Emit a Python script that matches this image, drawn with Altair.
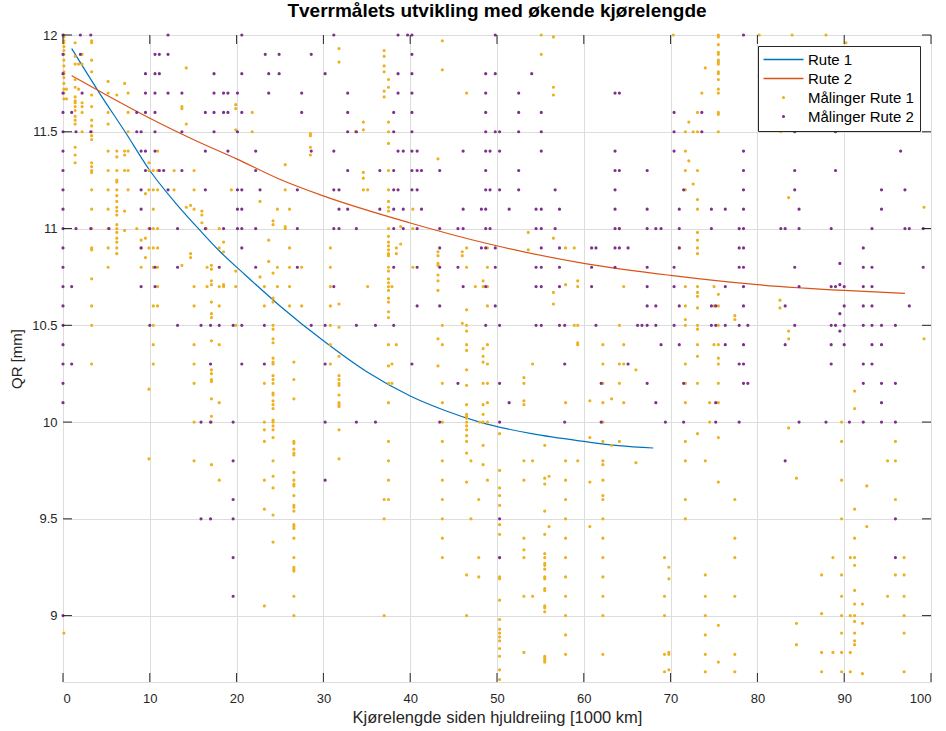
import altair as alt
import pandas as pd

# ---------------- data ----------------
x_ticks = [0, 10, 20, 30, 40, 50, 60, 70, 80, 90, 100]
y_ticks = [9, 9.5, 10, 10.5, 11, 11.5, 12]

# fitted curves
rute1_x = [1, 4.2, 7.15, 10, 13, 16, 18, 21, 25, 30, 35, 40, 44, 48, 54, 60, 64, 68]
rute1_y = [11.93, 11.70, 11.50, 11.30, 11.13, 10.98, 10.885, 10.76, 10.60, 10.42, 10.26,
           10.135, 10.06, 10.00, 9.94, 9.90, 9.878, 9.866]
rute2_x = [1, 5, 10, 15, 20, 24.9, 29.9, 39.9, 49.1, 60, 70, 80, 90, 97]
rute2_y = [11.79, 11.69, 11.57, 11.46, 11.36, 11.256, 11.17, 11.03, 10.92, 10.82,
           10.758, 10.71, 10.68, 10.665]

# measurements route 1: (mileage, [QR values])
maal1 = [
    (0.1, [12.00, 11.99, 11.97, 11.96, 11.94, 11.92, 11.90, 11.87, 11.84, 11.81, 11.80, 11.78, 11.75, 11.72, 11.70, 11.67, 8.91]),
    (0.4, [11.72, 11.67]),
    (1.4, [11.96, 11.89, 11.85, 11.77, 11.73, 11.68, 11.66, 11.65, 11.63, 11.61, 11.58, 11.56, 11.54, 11.42, 11.38, 11.34]),
    (1.8, [11.85, 11.72]),
    (2.2, [11.90, 11.85, 11.65, 11.63, 11.60, 11.50]),
    (3.3, [11.97, 11.96, 11.87, 11.81, 11.69, 11.63, 11.56, 11.53, 11.50, 11.48, 11.46, 11.34, 11.32, 11.30, 11.29, 11.20, 11.10, 11.00, 10.90, 10.89, 10.74, 10.60, 10.50, 10.30]),
    (5.2, [11.76, 11.70, 11.60, 11.54, 11.40, 11.30, 11.20, 11.10, 11.00, 10.90, 10.80]),
    (6.2, [11.69, 11.40, 11.37, 11.30, 11.25, 11.24, 11.20, 11.17, 11.14, 11.11, 11.09, 11.07, 11.02, 11.00, 10.98, 10.95, 10.93, 10.90, 10.87]),
    (7.1, [11.75, 11.40, 11.38, 11.30, 11.09, 10.99]),
    (7.5, [11.70, 11.60, 11.50, 11.40, 11.30, 11.20]),
    (8.5, [11.00]),
    (9.0, [10.94, 10.90, 10.80]),
    (9.5, [11.18, 10.95, 10.85]),
    (9.9, [11.34, 11.30, 11.20, 11.00, 10.90, 10.17, 9.81]),
    (10.4, [11.30, 11.20, 11.10, 11.00, 10.90, 10.80, 10.60, 10.50, 10.40, 10.30]),
    (10.9, [11.40, 11.30, 11.20, 11.00, 10.90, 10.80, 10.70, 10.60]),
    (12.8, [11.30, 11.20]),
    (13.7, [11.63, 11.62, 10.81]),
    (14.2, [11.83, 11.54, 11.11]),
    (14.7, [11.12, 10.87, 10.85]),
    (15.1, [11.30, 11.20, 11.10, 10.70, 10.60, 10.40, 10.30, 10.20, 10.00, 9.80]),
    (16.0, [11.09, 11.07, 11.03]),
    (16.5, [11.00]),
    (16.6, [10.80, 10.70]),
    (17.1, [10.81, 10.79, 10.73, 10.71, 10.62, 10.56, 10.54, 10.42, 10.27, 10.25, 10.22, 10.21, 10.12, 10.03, 10.00, 9.78]),
    (18.0, [11.00, 10.90, 10.70, 10.60, 10.40, 10.10, 9.70]),
    (18.5, [10.93, 10.88, 10.71, 10.70]),
    (19.4, [11.20]),
    (19.9, [11.64, 11.62, 11.51, 10.78, 10.70, 10.50]),
    (21.8, [11.60, 11.50]),
    (22.7, [11.14, 10.75]),
    (23.2, [10.70, 10.60, 10.20, 10.00, 9.96, 9.90, 9.70, 9.55, 9.05]),
    (23.7, [10.94, 10.83]),
    (24.2, [11.04, 11.02, 10.77, 10.64, 10.62, 10.50, 10.48, 10.43, 10.41, 10.33, 10.31, 10.30, 10.24, 10.22, 10.20, 10.15, 10.14, 10.11, 10.09, 10.07, 10.01, 10.00, 9.98, 9.96, 9.92, 9.80, 9.72, 9.66, 9.52, 9.38]),
    (24.7, [11.10, 10.80, 10.70]),
    (25.6, [11.33, 11.20, 11.01, 11.00]),
    (26.1, [11.10, 10.90, 10.80, 10.70, 10.60]),
    (26.6, [10.31, 10.22, 10.12, 9.90, 9.89, 9.86, 9.84, 9.83, 9.74, 9.70, 9.68, 9.67, 9.62, 9.57, 9.56, 9.54, 9.47, 9.46, 9.45, 9.40, 9.30, 9.25, 9.24, 9.23, 9.10, 9.00]),
    (27.5, [10.80, 10.60]),
    (28.5, [11.49, 11.48, 11.42, 11.38]),
    (30.8, [10.90, 10.80, 10.70, 10.60, 10.50, 10.40, 10.30]),
    (31.8, [11.93, 11.86, 10.61, 10.49, 10.34, 10.24, 10.22, 10.20, 10.19, 10.14, 10.10, 10.09, 10.08, 9.96, 9.81]),
    (33.7, [11.50]),
    (34.6, [11.55, 11.51, 11.29, 11.26, 11.20]),
    (35.1, [11.20, 10.70]),
    (37.0, [11.92, 11.89, 11.84, 11.81, 11.71, 11.68, 9.60, 9.50, 9.00]),
    (37.5, [11.77, 11.73, 11.55, 11.50, 11.44, 11.30, 11.20, 11.14, 11.11, 11.09, 11.00, 10.96, 10.93, 10.91, 10.89, 10.87, 10.86, 10.80, 10.78, 10.74, 10.72, 10.70, 10.68, 10.64, 10.62, 10.57, 10.54, 10.40, 10.29, 10.20, 10.10, 9.90, 9.80, 9.70, 9.60]),
    (37.9, [10.70, 10.30, 10.20]),
    (38.4, [10.90, 10.87, 10.40]),
    (38.9, [11.01, 10.92]),
    (40.3, [11.10, 11.00, 10.80]),
    (43.2, [11.36, 10.88, 10.86, 10.82, 10.81, 10.76, 10.73, 10.68, 10.43, 10.29]),
    (43.7, [11.97, 11.82, 10.50, 10.40, 10.20, 10.10, 10.00, 9.90, 9.80, 9.70, 9.60, 9.50, 9.40, 9.30]),
    (46.0, [10.88, 10.86, 10.51]),
    (46.5, [11.70, 10.90, 10.80, 10.58, 10.50, 10.47, 10.40, 10.37, 10.27, 10.19, 10.09, 10.04, 10.03, 10.02, 10.00, 9.98, 9.96, 9.93, 9.90, 9.84, 9.69, 9.21, 9.00]),
    (47.0, [9.80, 9.50]),
    (47.5, [10.70]),
    (47.9, [9.60, 9.30, 9.20]),
    (48.0, [10.00]),
    (48.4, [10.73, 10.70, 10.38, 10.34, 10.31, 10.20, 10.09, 10.04, 10.00, 9.88, 9.78]),
    (48.9, [10.90, 10.80, 10.70, 10.60, 10.40, 10.30, 10.20, 10.10, 10.00, 9.70]),
    (50.3, [9.94, 9.75, 9.66, 9.62, 9.57, 9.47, 9.42, 9.30, 9.20, 9.19, 9.08, 8.98, 8.93, 8.91, 8.89, 8.87, 8.83, 8.79, 8.72, 8.67]),
    (53.1, [10.23, 10.20, 10.11, 10.09, 9.80, 9.70, 9.40, 9.34, 9.30, 9.10, 8.81]),
    (53.6, [10.98, 10.89]),
    (54.1, [10.30, 9.80, 9.10]),
    (55.1, [12.00, 11.90]),
    (55.5, [9.88, 9.71, 9.68, 9.54, 9.42, 9.32, 9.30, 9.27, 9.26, 9.24, 9.20, 9.19, 9.14, 9.13, 9.05, 9.04, 9.02, 8.79, 8.78, 8.77, 8.76]),
    (56.0, [9.72, 9.46]),
    (56.5, [11.99, 11.73, 11.69, 10.95, 10.67, 10.61]),
    (57.9, [10.90, 10.71, 10.10, 9.80, 9.70, 9.60, 9.50, 9.40, 9.30, 9.20, 9.10, 9.00, 8.90, 8.80]),
    (58.9, [10.90, 10.50]),
    (59.3, [10.73, 10.70, 10.50, 10.41, 10.40, 9.80]),
    (60.7, [10.11, 9.92, 9.69, 9.46]),
    (62.2, [10.40, 10.30, 10.20, 10.10, 10.00, 9.90, 9.80, 9.78, 9.70, 9.62, 9.60, 9.50, 9.40, 9.30, 9.20, 9.10, 9.00, 8.80]),
    (63.2, [10.12, 9.88]),
    (64.1, [11.00, 10.50, 10.30, 10.20, 9.90]),
    (64.6, [10.70, 10.40, 10.30, 10.10]),
    (66.0, [10.27, 9.79]),
    (69.3, [9.30, 9.10, 9.00, 8.80, 8.71]),
    (69.8, [9.25, 9.19, 8.81, 8.80, 8.72]),
    (70.3, [12.00]),
    (71.0, [10.90]),
    (71.7, [11.50, 11.40, 11.30, 11.20, 10.70, 10.60, 10.53, 10.50, 10.30, 10.20, 10.10, 9.90, 9.80, 9.60, 9.50]),
    (72.1, [11.55, 11.35]),
    (72.6, [11.50, 11.23]),
    (73.1, [11.60, 11.50, 11.30, 11.15, 11.10, 10.98, 10.94, 10.90, 10.87, 10.70, 10.67, 10.65, 10.59, 10.50, 10.48, 10.40, 10.34, 10.20, 9.94]),
    (73.6, [11.70]),
    (74.0, [11.83, 9.80, 9.21, 9.10, 9.00, 8.90, 8.80, 8.71]),
    (74.5, [10.10, 10.00]),
    (75.0, [10.70, 10.60, 10.40]),
    (75.5, [12.00, 11.99, 11.95, 11.91, 11.90, 11.87, 11.86, 11.85, 11.81, 11.80, 11.77, 11.72, 11.70, 11.60, 11.59, 11.50, 10.66, 10.60, 10.50, 10.40, 10.33, 10.30, 10.20, 10.10, 9.92, 9.69, 8.95, 8.76]),
    (77.4, [10.55, 10.53, 9.60, 9.40, 9.30, 9.10, 8.80, 8.71]),
    (80.2, [12.00, 11.79]),
    (82.6, [10.63, 10.59]),
    (82.7, [11.50]),
    (83.6, [11.16, 10.47, 10.43, 9.97]),
    (84.0, [12.00]),
    (84.5, [9.71, 8.96, 8.85]),
    (87.4, [9.21, 9.01, 8.81, 8.71]),
    (87.9, [12.00]),
    (88.7, [9.30, 8.81]),
    (89.7, [10.00, 9.90, 9.70, 9.50, 9.21, 9.10, 9.00, 8.91, 8.81, 8.71]),
    (90.2, [11.96]),
    (90.7, [9.30, 9.00, 8.81, 8.71]),
    (91.2, [10.16, 10.07, 9.55, 9.40, 9.30, 9.26, 9.13, 9.06, 9.00, 8.97, 8.91, 8.87, 8.85]),
    (92.1, [9.06, 8.96, 8.70]),
    (92.6, [9.67, 9.46]),
    (95.0, [9.80, 9.10]),
    (95.9, [9.90, 9.80, 9.60, 9.21]),
    (96.9, [9.30, 9.21, 9.10, 9.00, 8.91, 8.71]),
    (99.2, [11.11, 10.43]),
]

# measurements route 2: (mileage, [QR values])
maal2 = [
    (0.0, [12.0, 11.9, 11.8, 11.7, 11.6, 11.5, 11.4, 11.3, 11.2, 11.1, 11.0, 10.9, 10.8, 10.7, 10.6, 10.5, 10.4, 10.3, 10.2, 10.1, 9.0]),
    (1.0, [11.6, 10.7, 10.3]),
    (1.5, [11.5, 11.0]),
    (2.0, [12.0, 11.9]),
    (2.2, [11.7]),
    (3.2, [12.0, 11.5, 11.0]),
    (5.3, [11.0]),
    (8.5, [11.6, 11.5]),
    (9.0, [11.5, 11.4, 11.2, 11.1, 10.9, 10.7]),
    (9.5, [11.8, 11.7, 11.6, 11.4, 11.3]),
    (10.0, [11.0, 10.5]),
    (10.6, [11.9, 11.8, 11.7, 11.6, 11.5, 11.4, 10.8, 10.7]),
    (11.1, [11.9, 11.8, 11.3]),
    (11.6, [11.3]),
    (12.1, [12.0, 11.9, 11.7, 11.2]),
    (13.2, [11.0, 10.8, 10.5]),
    (13.7, [11.7, 11.5, 11.3]),
    (15.9, [10.5, 10.0, 9.5]),
    (16.4, [11.6, 11.4, 11.2, 11.0]),
    (17.0, [10.5, 10.3, 10.0, 9.5]),
    (17.4, [11.8, 11.7, 11.6, 11.5]),
    (18.0, [10.8, 10.5]),
    (18.5, [11.7, 11.6, 11.0]),
    (19.0, [11.7, 11.6, 11.4]),
    (19.6, [10.5, 10.0, 9.8, 9.6, 9.5, 9.3, 9.1]),
    (20.1, [11.7, 11.5, 11.2, 11.1, 11.0]),
    (20.6, [12.0, 11.8, 11.6, 11.2, 11.1, 11.0, 10.9, 10.5, 10.3]),
    (22.2, [11.4, 11.3, 11.0, 10.8]),
    (22.7, [11.2]),
    (23.2, [10.5, 10.3]),
    (23.3, [11.9]),
    (23.7, [11.8, 11.7]),
    (24.9, [11.9, 11.8]),
    (27.0, [11.2, 11.0, 10.8]),
    (27.5, [11.7, 11.6]),
    (28.6, [11.9, 11.4, 10.5]),
    (30.2, [11.8, 10.5, 10.3, 10.0, 9.7]),
    (31.2, [12.0, 11.4, 11.2, 11.0, 10.7]),
    (31.8, [11.2, 11.1, 11.0]),
    (32.8, [11.7, 11.6, 11.5, 11.3, 11.1]),
    (33.8, [11.5, 11.0, 10.5, 10.0]),
    (36.0, [10.5, 10.0]),
    (36.5, [11.3, 11.1]),
    (38.1, [11.6, 11.5, 11.3, 11.2, 11.1, 11.0, 10.8, 10.5]),
    (38.6, [12.0, 11.8, 11.7, 11.4, 11.2]),
    (39.2, [11.4, 11.1, 11.0]),
    (39.7, [12.0]),
    (40.2, [12.0, 11.9, 11.8, 11.7, 11.6, 11.5, 11.4, 11.3, 11.2, 10.3]),
    (40.8, [11.4, 11.3, 11.2, 11.0, 10.8, 10.6]),
    (41.3, [11.3, 11.1]),
    (43.4, [11.3, 11.0, 10.9, 10.8, 10.6, 10.0]),
    (45.5, [11.0, 10.8, 10.2]),
    (46.1, [11.4, 11.1, 11.0, 10.7]),
    (48.2, [11.1, 10.9]),
    (48.7, [11.8, 11.7, 11.6, 11.5, 11.4, 11.3, 11.2, 11.1, 11.0, 10.9, 10.7, 10.5]),
    (49.2, [11.4, 11.2, 11.0]),
    (49.8, [12.0, 11.8, 11.5, 10.9, 10.8, 10.6]),
    (50.3, [11.5, 11.4, 11.2, 10.5, 10.2, 10.0, 9.5, 9.3]),
    (51.4, [11.1, 10.1]),
    (52.5, [11.7, 11.6, 11.5, 11.3, 11.2]),
    (54.0, [11.8]),
    (54.5, [11.1, 11.0, 10.8, 10.7, 10.5]),
    (55.1, [11.6, 11.5, 11.4, 11.1, 11.0, 10.9, 10.8, 10.7, 10.5]),
    (56.7, [11.2, 11.0]),
    (57.2, [11.1, 10.9, 10.8, 10.7, 10.5]),
    (57.8, [10.5, 10.3, 10.0]),
    (60.9, [10.9, 10.8, 10.7]),
    (61.4, [10.9, 10.5]),
    (62.0, [10.2, 10.0]),
    (63.6, [11.7, 11.4, 11.3, 11.2, 11.1, 11.0, 10.9, 10.8]),
    (64.1, [11.7, 11.3, 11.0, 10.9]),
    (65.1, [10.9, 10.3]),
    (66.2, [10.5]),
    (66.7, [10.5]),
    (67.3, [11.3, 11.1, 11.0, 10.8, 10.7, 10.6, 10.5, 10.2]),
    (68.3, [11.0, 10.6, 10.5, 10.1]),
    (68.9, [11.0, 10.4]),
    (69.4, [10.0]),
    (70.4, [11.6, 11.5, 11.4, 10.8, 10.7, 10.5]),
    (71.0, [11.1, 11.0, 10.9, 10.6, 10.4]),
    (71.5, [11.2, 10.2, 10.0]),
    (73.6, [11.6, 11.5]),
    (74.7, [11.1, 11.0, 10.6, 10.5]),
    (75.2, [10.6, 10.5, 10.1, 10.0]),
    (76.3, [11.1, 10.7, 10.5, 10.4]),
    (77.9, [11.0, 10.9, 10.8, 10.5, 10.3, 10.0]),
    (78.4, [12.0, 11.4, 11.3, 11.2, 11.1, 11.0, 10.9, 10.8, 10.7, 10.6, 10.4, 10.3, 10.2]),
    (78.9, [10.5, 10.2]),
    (82.7, [11.0]),
    (83.2, [11.0, 10.6, 10.4, 9.8]),
    (84.3, [11.5, 11.3, 11.2, 10.8, 10.5]),
    (84.8, [11.1, 11.0, 10.7, 10.0]),
    (87.9, [10.0]),
    (88.5, [11.0, 10.7, 10.5, 10.4, 10.3]),
    (89.0, [11.5, 11.3, 10.7, 10.5]),
    (89.5, [10.82, 10.71, 10.56, 10.47]),
    (90.0, [10.7, 10.6, 10.5, 10.4]),
    (90.6, [10.0]),
    (92.2, [10.9, 10.8, 10.7, 10.6, 10.5, 10.3, 10.2, 10.0]),
    (93.2, [11.0, 10.8, 10.7, 10.6, 10.5, 10.4, 10.3]),
    (94.3, [11.2, 11.1, 10.5, 10.4, 10.2, 10.1, 10.0]),
    (95.9, [10.5, 10.2, 10.0, 9.5, 9.3]),
    (96.5, [11.4]),
    (97.0, [11.2, 11.0]),
    (97.5, [11.0, 10.6]),
    (99.1, [11.0, 10.8]),
]

names = ["Rute 1", "Rute 2", "Målinger Rute 1", "Målinger Rute 2"]
colors = ["#0072BD", "#D95319", "#EDB120", "#7E2F8E"]

# ---------------- tables ----------------
rows = []
for xv, ys in maal1:
    for yv in ys:
        rows.append({"x": xv, "y": yv, "serie": names[2]})
for xv, ys in maal2:
    for yv in ys:
        rows.append({"x": xv, "y": yv, "serie": names[3]})
pts = pd.DataFrame(rows)

lines = pd.concat([
    pd.DataFrame({"x": rute1_x, "y": rute1_y, "serie": names[0]}),
    pd.DataFrame({"x": rute2_x, "y": rute2_y, "serie": names[1]}),
])

W, H = 868, 647
FONT = "Liberation Sans"
INK = "#262626"

LINE_SYM = "M-4,0L4,0"
DOT_SYM = "M-0.16,0A0.16,0.16,0,1,1,0.16,0A0.16,0.16,0,1,1,-0.16,0Z"

xs = alt.Scale(domain=[0, 100], nice=False, zero=False)
ys_ = alt.Scale(domain=[8.657, 12], nice=False, zero=False)
cs = alt.Scale(domain=names, range=colors)
ss = alt.Scale(domain=names, range=[LINE_SYM, LINE_SYM, DOT_SYM, DOT_SYM])

leg = alt.Legend(
    title=None, orient="top-right", offset=11,
    fillColor="white", strokeColor=INK, padding=6,
    symbolOffset=12, labelOffset=17, rowPadding=3,
    labelFont=FONT, labelFontSize=15, labelColor="black",
    symbolSize=100, symbolStrokeWidth=1.5, cornerRadius=0,
)

x_axis = alt.Axis(values=x_ticks, grid=True, ticks=False, domain=False,
                  labelFont=FONT, labelFontSize=13, labelColor=INK, labelPadding=10,
                  title="Kjørelengde siden hjuldreiing [1000 km]",
                  titleFont=FONT, titleFontSize=16.5, titleFontWeight="normal",
                  titleColor=INK, titlePadding=4)
y_axis = alt.Axis(values=y_ticks, format="~g", grid=True, ticks=False, domain=False,
                  labelFont=FONT, labelFontSize=13, labelColor=INK, labelPadding=6,
                  title="QR [mm]", titleFont=FONT, titleFontSize=15,
                  titleFontWeight="normal", titleColor=INK, titlePadding=7)

line_layer = alt.Chart(lines).mark_line(strokeWidth=1.2, interpolate="monotone").encode(
    x=alt.X("x:Q", scale=xs, axis=x_axis),
    y=alt.Y("y:Q", scale=ys_, axis=y_axis),
    color=alt.Color("serie:N", scale=cs, legend=leg),
)

pt_layer = alt.Chart(pts).mark_point(filled=False, size=100, strokeWidth=1.6, opacity=1).encode(
    x=alt.X("x:Q", scale=xs, axis=x_axis),
    y=alt.Y("y:Q", scale=ys_, axis=y_axis),
    color=alt.Color("serie:N", scale=cs, legend=leg),
    shape=alt.Shape("serie:N", scale=ss, legend=leg),
)

xt = pd.DataFrame({"v": x_ticks})
yt = pd.DataFrame({"v": y_ticks})
tick_b = alt.Chart(xt).mark_rule(color=INK, strokeWidth=1).encode(
    x=alt.X("v:Q", scale=xs, axis=x_axis), y=alt.value(H), y2=alt.value(H - 9))
tick_t = alt.Chart(xt).mark_rule(color=INK, strokeWidth=1).encode(
    x=alt.X("v:Q", scale=xs, axis=x_axis), y=alt.value(0), y2=alt.value(9))
tick_l = alt.Chart(yt).mark_rule(color=INK, strokeWidth=1).encode(
    y=alt.Y("v:Q", scale=ys_, axis=y_axis), x=alt.value(0), x2=alt.value(9))
tick_r = alt.Chart(yt).mark_rule(color=INK, strokeWidth=1).encode(
    y=alt.Y("v:Q", scale=ys_, axis=y_axis), x=alt.value(W), x2=alt.value(W - 9))

chart = alt.layer(line_layer, pt_layer, tick_b, tick_t, tick_l, tick_r).properties(
    width=W, height=H,
    title=alt.TitleParams("Tverrmålets utvikling med økende kjørelengde",
                          font=FONT, fontSize=19, fontWeight="bold", color="black",
                          anchor="middle", offset=8),
    autosize=alt.AutoSizeParams(type="none"),
    padding={"left": 63, "top": 35, "right": 15, "bottom": 49},
).configure_view(
    stroke=INK, strokeWidth=1
).configure_axis(
    gridColor="#e3e3e3", gridWidth=1
).configure(background="white")

chart.save("out.html", embed_options={"renderer": "svg", "actions": False})
